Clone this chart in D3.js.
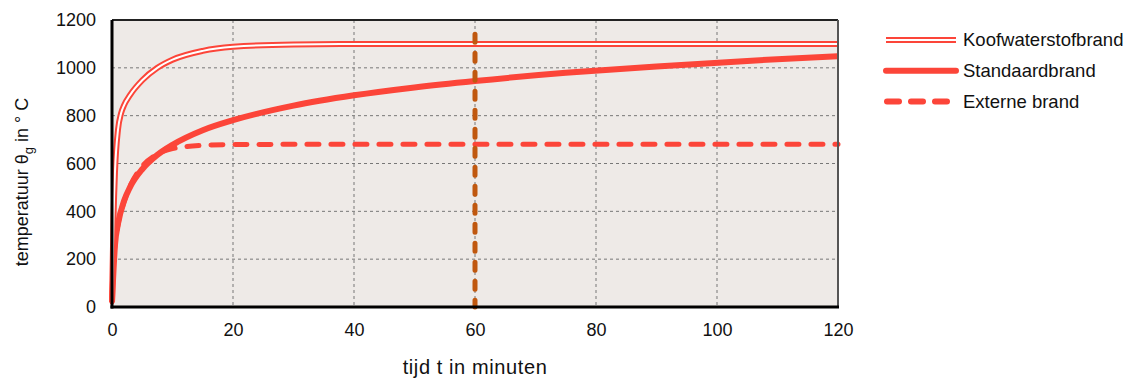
<!DOCTYPE html>
<html>
<head>
<meta charset="utf-8">
<script src="https://cdn.jsdelivr.net/npm/d3@7"></script>
<style>
  body { margin: 0; background: #fff; }
  text { font-family: "Liberation Sans", Arial, sans-serif; fill: #111; }
</style>
</head>
<body>
<svg width="1126" height="378"></svg>
<script>
// values (time in minutes, temperature in °C)
let hcTime = [0, 0.25, 0.5, 1, 1.5, 2, 3, 5, 7.5, 10, 15, 20, 30, 40, 60, 90, 120];
let hcTemp = [20, 373, 568, 743, 810, 844, 887, 948, 1000, 1034, 1071, 1088, 1098, 1100, 1100, 1100, 1100];

let stdTime = [0, 0.5, 1, 2, 3, 5, 7.5, 10, 15, 20, 30, 40, 50, 60, 75, 90, 105, 120];
let stdTemp = [20, 261, 349, 444, 502, 576, 636, 678, 739, 781, 842, 885, 918, 945, 979, 1006, 1029, 1049];

let extTime = [0, 0.25, 0.5, 1, 2, 3, 5, 7.5, 10, 15, 20, 30, 60, 120];
let extTemp = [20, 182, 263, 346, 441, 506, 588, 639, 662, 676, 679, 680, 680, 680];

let markTime = 60;
let markTop = 1140;

let xTicks = [0, 20, 40, 60, 80, 100, 120];
let yTicks = [0, 200, 400, 600, 800, 1000, 1200];
let legendNames = ["Koofwaterstofbrand", "Standaardbrand", "Externe brand"];

let svg = d3.select("svg");
let margin = {left: 112, top: 20, right: 288, bottom: 71};
let width = 1126 - margin.left - margin.right,
    height = 378 - margin.top - margin.bottom;

let x = d3.scaleLinear().domain([0, 120]).range([0, width]);
let y = d3.scaleLinear().domain([0, 1200]).range([height, 0]);

let red = "#fc4539";

let g = svg.append("g").attr("transform", `translate(${margin.left},${margin.top})`);

g.append("rect")
  .attr("width", width).attr("height", height)
  .attr("fill", "#eeeae7");

// grid
g.append("g").selectAll("line")
  .data(xTicks.slice(1, -1))
  .enter().append("line")
  .attr("x1", d => x(d)).attr("x2", d => x(d))
  .attr("y1", 0).attr("y2", height)
  .attr("stroke", "#777").attr("stroke-width", 1).attr("stroke-dasharray", "3,3");

g.append("g").selectAll("line")
  .data(yTicks.slice(1, -1))
  .enter().append("line")
  .attr("y1", d => y(d)).attr("y2", d => y(d))
  .attr("x1", 0).attr("x2", width)
  .attr("stroke", "#777").attr("stroke-width", 1).attr("stroke-dasharray", "3,3");

let line = d3.line()
  .x(d => x(d[0]))
  .y(d => y(d[1]))
  .curve(d3.curveMonotoneX);

let hc = hcTime.map((t, i) => [t, hcTemp[i]]);
let std = stdTime.map((t, i) => [t, stdTemp[i]]);
let ext = extTime.map((t, i) => [t, extTemp[i]]);

let lines = g.append("g").attr("fill", "none");

lines.append("path")
  .attr("d", line(ext))
  .attr("stroke", red).attr("stroke-width", 5)
  .attr("stroke-dasharray", "12,12").attr("stroke-linecap", "round");

lines.append("path")
  .attr("d", line(std))
  .attr("stroke", red).attr("stroke-width", 6);

lines.append("path")
  .attr("d", line(hc))
  .attr("stroke", red).attr("stroke-width", 6);
lines.append("path")
  .attr("d", line(hc))
  .attr("stroke", "#fff").attr("stroke-width", 2);

// 60 minute marker
g.append("line")
  .attr("x1", x(markTime)).attr("x2", x(markTime))
  .attr("y1", y(markTop)).attr("y2", y(0))
  .attr("stroke", "#c0580f").attr("stroke-width", 5)
  .attr("stroke-dasharray", "8,11").attr("stroke-linecap", "round");

// frame
g.append("line").attr("x1", 0).attr("x2", width).attr("y1", 0).attr("y2", 0)
  .attr("stroke", "#222").attr("stroke-width", 2);
g.append("line").attr("x1", width).attr("x2", width).attr("y1", 0).attr("y2", height)
  .attr("stroke", "#555").attr("stroke-width", 2);
g.append("line").attr("x1", 0).attr("x2", 0).attr("y1", 0).attr("y2", height + 1.5)
  .attr("stroke", "#000").attr("stroke-width", 3);
g.append("line").attr("x1", -1.5).attr("x2", width + 1).attr("y1", height).attr("y2", height)
  .attr("stroke", "#000").attr("stroke-width", 3);

// axes (labels only)
let xAxis = g.append("g")
  .attr("transform", `translate(0,${height})`)
  .call(d3.axisBottom(x).tickValues(xTicks).tickFormat(d3.format("d")).tickSize(0).tickPadding(16));
let yAxis = g.append("g")
  .call(d3.axisLeft(y).tickValues(yTicks).tickFormat(d3.format("d")).tickSize(0).tickPadding(16));
[xAxis, yAxis].forEach(a => {
  a.select(".domain").remove();
  a.attr("font-size", null).attr("font-family", null);
  a.selectAll("text")
    .style("font-size", "18px").attr("fill", "#111");
});

svg.append("text")
  .attr("x", margin.left + x(60)).attr("y", 374)
  .attr("text-anchor", "middle")
  .style("font-size", "20px").style("letter-spacing", "0.6px")
  .text("tijd t in minuten");

let yl = svg.append("text")
  .attr("transform", "translate(28,182) rotate(-90)")
  .attr("text-anchor", "middle").style("font-size", "18px");
yl.append("tspan").text("temperatuur θ");
yl.append("tspan").style("font-size", "13px").attr("dy", 5).text("g");
yl.append("tspan").attr("dy", -5).text(" in ° C");

// legend
let lg = svg.append("g").attr("transform", "translate(884,40)");
let items = lg.selectAll("g")
  .data(legendNames)
  .enter().append("g")
  .attr("transform", (d, i) => `translate(0,${i * 30.7})`);

items.each(function(d, i) {
  let it = d3.select(this);
  if (i === 0) {
    it.append("line").attr("x1", 2).attr("x2", 72)
      .attr("stroke", red).attr("stroke-width", 6);
    it.append("line").attr("x1", 2).attr("x2", 72)
      .attr("stroke", "#fff").attr("stroke-width", 2);
  } else if (i === 1) {
    it.append("line").attr("x1", 2).attr("x2", 72)
      .attr("stroke", red).attr("stroke-width", 6).attr("stroke-linecap", "round");
  } else {
    it.append("line").attr("x1", 3).attr("x2", 64)
      .attr("stroke", red).attr("stroke-width", 6).attr("stroke-linecap", "round")
      .attr("stroke-dasharray", "12,12");
  }
  it.append("text").attr("x", 79).attr("dy", "0.35em")
    .style("font-size", "18.5px").text(d);
});
</script>
</body>
</html>
